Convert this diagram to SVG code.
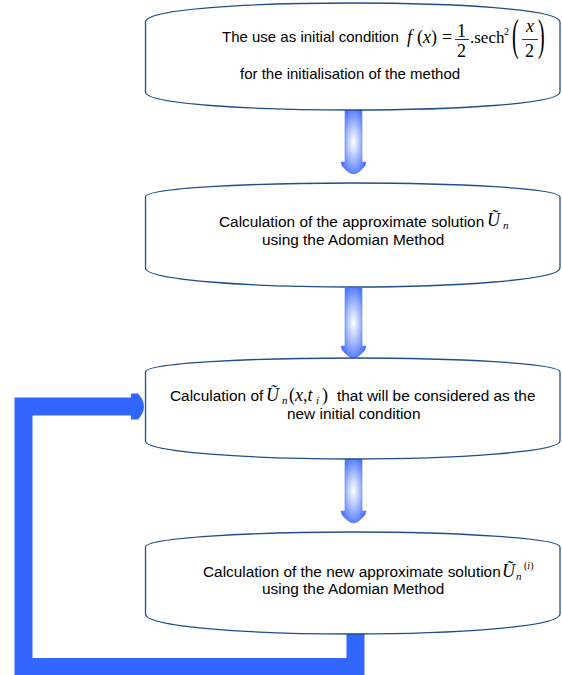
<svg xmlns="http://www.w3.org/2000/svg" width="562" height="675" viewBox="0 0 562 675">
<style>
.box{fill:#fff;stroke:#1f4f8a;stroke-width:1.3}
.t{font-family:"Liberation Sans",Arial,sans-serif;font-size:15.4px;fill:#000}
.t1{font-family:"Liberation Sans",Arial,sans-serif;font-size:15px;fill:#000}
.m{font-family:"Liberation Serif","Times New Roman",serif;font-size:18px;fill:#000}
.mi{font-family:"Liberation Serif","Times New Roman",serif;font-size:18px;font-style:italic;fill:#000}
.sub{font-family:"Liberation Serif","Times New Roman",serif;font-size:11px;font-style:italic;fill:#000}
.sup{font-family:"Liberation Serif","Times New Roman",serif;font-size:10px;fill:#000}
.par{font-family:"Liberation Serif","Times New Roman",serif;font-size:20px;fill:#000}
.flow{fill:url(#ag);stroke:#5a82ff;stroke-width:0.6}
.fb{fill:none;stroke:#3366ff;stroke-width:18}
</style>
<defs>
<radialGradient id="ag" cx="0.5" cy="0.5" r="0.6">
<stop offset="0" stop-color="#ffffff"/>
<stop offset="0.45" stop-color="#a9bdfd"/>
<stop offset="1" stop-color="#3b68ff"/>
</radialGradient>
</defs>

<g id="connectors">
<path class="flow" d="M345,110 H362 V162 H366 Q366,166 361,170 Q357,174 353.5,174 Q350,174 346,170 Q341,166 341,162 H345 Z"/>
<path class="flow" d="M345,288 H362 V346 H366 Q366,350 361,354 Q357,358 353.5,358 Q350,358 346,354 Q341,350 341,346 H345 Z"/>
<path class="flow" d="M345,459 H362 V511 H366 Q366,515 361,519 Q357,523 353.5,523 Q350,523 346,519 Q341,515 341,511 H345 Z"/>
<path class="fb" d="M355.5,633 V667 H23.5 V406.5 H133"/>
<path d="M131,393.5 H138 Q144,400 144,406.5 Q144,413 138,419.5 H131 Z" fill="#3366ff"/>
</g>

<g id="node1">
<path class="box" d="M145.5,22 C145.5,9 250,3 352,3 C454,3 560,9 560,22 V92 C560,104 454,110 352,110 C250,110 145.5,104 145.5,92 Z"/>
<text class="t1" x="222" y="42">The use as initial condition</text>
<text class="mi" x="407" y="43">f</text>
<text class="m" x="417" y="43">(<tspan font-style="italic">x</tspan>)</text>
<text class="m" x="442" y="43">=</text>
<text class="m" x="457" y="36.5">1</text>
<line x1="455" y1="39.5" x2="469" y2="39.5" stroke="#000" stroke-width="0.8"/>
<text class="m" x="457" y="56.5">2</text>
<text class="m" x="470" y="43" style="font-size:17px">.sech</text>
<text class="sup" x="504" y="35">2</text>
<text class="par" transform="translate(512,50) scale(1,2.2)">(</text>
<text class="mi" x="526" y="32">x</text>
<line x1="522" y1="39.5" x2="538" y2="39.5" stroke="#000" stroke-width="0.8"/>
<text class="m" x="525" y="57">2</text>
<text class="par" transform="translate(538,50) scale(1,2.2)">)</text>
<text class="t1" x="240" y="79">for the initialisation of the method</text>
</g>

<g id="node2">
<path class="box" d="M145.5,197 C145.5,188 250,183 352,183 C454,183 560,188 560,197 V268 C560,280 454,287 352,287 C250,287 145.5,280 145.5,268 Z"/>
<text class="t" x="219" y="227">Calculation of the approximate solution</text>
<text class="mi" x="487" y="226">Ũ</text>
<text class="sub" x="503" y="229">n</text>
<text class="t" x="262" y="245">using the Adomian Method</text>
</g>

<g id="node3">
<path class="box" d="M145.5,372 C145.5,363 250,358 352,358 C454,358 560,363 560,372 V441 C560,452 454,459 352,459 C250,459 145.5,452 145.5,441 Z"/>
<text class="t" x="170" y="401">Calculation of</text>
<text class="mi" x="266" y="401">Ũ</text>
<text class="sub" x="282" y="404">n</text>
<text class="m" x="289" y="401">(<tspan font-style="italic">x</tspan>,<tspan font-style="italic">t</tspan></text>
<text class="sub" x="316" y="404">i</text>
<text class="m" x="322" y="401">)</text>
<text class="t" x="337" y="401">that will be considered as the</text>
<text class="t" x="287" y="419">new initial condition</text>
</g>

<g id="node4">
<path class="box" d="M145.5,547 C145.5,538 250,532 352,532 C454,532 560,538 560,547 V614 C560,627 454,634 352,634 C250,634 145.5,627 145.5,614 Z"/>
<text class="t" x="203" y="577">Calculation of the new approximate solution</text>
<text class="mi" x="502" y="577">Ũ</text>
<text class="sub" x="516" y="580">n</text>
<text class="sup" x="524" y="569">(<tspan font-style="italic">i</tspan>)</text>
<text class="t" x="262" y="594">using the Adomian Method</text>
</g>
</svg>
